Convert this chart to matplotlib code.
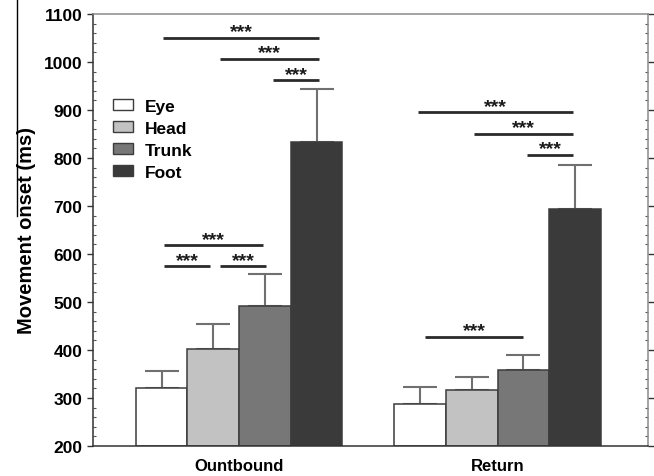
import matplotlib
matplotlib.use("Agg")
import matplotlib.pyplot as plt
import numpy as np
from matplotlib.ticker import MultipleLocator
from matplotlib.patches import Patch
from matplotlib.lines import Line2D

plt.rcParams['font.family'] = ['Liberation Sans', 'DejaVu Sans']

groups = ["Ountbound", "Return"]
segments = ["Eye", "Head", "Trunk", "Foot"]
means = {
    "Eye":   [321, 288],
    "Head":  [402, 317],
    "Trunk": [492, 358],
    "Foot":  [834, 693],
}
errors = {
    "Eye":   [35, 35],
    "Head":  [52, 27],
    "Trunk": [66, 32],
    "Foot":  [109, 93],
}
colors = {"Eye": "#ffffff", "Head": "#c2c2c2", "Trunk": "#777777", "Foot": "#3a3a3a"}

# significance brackets: (x_start, x_end, y) in data coordinates
brackets = [
    (-0.294, 0.309, 1050), (-0.0735, 0.309, 1006), (0.1315, 0.309, 962),
    (-0.290, 0.093, 618), (-0.290, -0.112, 574), (-0.0735, 0.104, 574),
    (0.692, 1.292, 895), (0.909, 1.292, 850), (1.114, 1.292, 806),
    (0.7195, 1.099, 428),
]
sig_label = "***"

fig = plt.figure(figsize=(6.54, 4.77), dpi=100)
ax = fig.add_axes([93/654, 30/477, 555/654, 432/477])

x = np.arange(len(groups))
width = 0.2
offsets = [-0.3, -0.1, 0.1, 0.3]
for seg, off in zip(segments, offsets):
    ax.bar(x + off, np.array(means[seg]) - 200, width, bottom=200,
           color=colors[seg], edgecolor="#3c3c3c", linewidth=1.1, zorder=2)
    ax.errorbar(x + off, means[seg], yerr=[np.zeros(len(groups)), errors[seg]],
                fmt="none", ecolor="#707070", elinewidth=1.5, capsize=12.5,
                capthick=1.5, zorder=1)

for x0, x1, y in brackets:
    ax.plot([x0, x1], [y, y], color="#2a2a2a", lw=2, solid_capstyle="butt", zorder=3)
    ax.text((x0 + x1) / 2, y - 5, sig_label, ha="center", va="bottom",
            fontsize=14, fontweight="bold", color="#1a1a1a")

ax.set_xlim(-0.565, 1.582)
ax.set_ylim(200, 1100)
ax.set_xticks(x)
ax.set_xticklabels(groups, fontsize=12, fontweight="bold")
ax.tick_params(axis="x", length=0, pad=9)
ax.yaxis.set_major_locator(MultipleLocator(100))
ax.yaxis.set_minor_locator(MultipleLocator(20))
ax.tick_params(axis="y", which="major", direction="out", length=4, width=1,
               labelsize=12.5, color="#333333", right=True)
ax.tick_params(axis="y", which="minor", direction="in", length=2.5, width=0.8,
               color="#555555", right=True)
for lbl in ax.get_yticklabels():
    lbl.set_fontweight("bold")
ax.set_ylabel("Movement onset (ms)", fontsize=14.5, fontweight="bold", labelpad=6)

ax.spines["left"].set_color("#333333")
ax.spines["bottom"].set_color("#333333")
ax.spines["top"].set_color("#8a8a8a")
ax.spines["right"].set_color("#8a8a8a")
for s in ax.spines.values():
    s.set_linewidth(1.1)

handles = [Patch(facecolor=colors[s], edgecolor="#3c3c3c", linewidth=1.0) for s in segments]
leg = ax.legend(handles, segments, loc="upper left", bbox_to_anchor=(0.015, 0.832),
                frameon=False, handlelength=1.1, handleheight=0.65,
                labelspacing=0.4, handletextpad=0.7, borderpad=0.2,
                prop={"size": 12.5, "weight": "bold"})

fig.add_artist(Line2D([17/654, 17/654], [1.0, 1 - 217/477], color="black", lw=1,
                      transform=fig.transFigure))

fig.savefig("out.png", dpi=100)
